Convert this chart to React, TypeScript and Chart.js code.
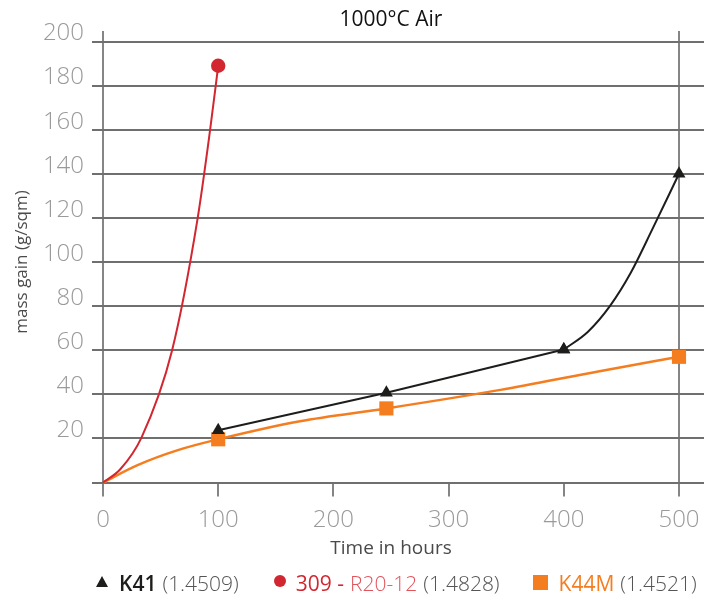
import React, { useEffect, useRef } from "react";
import { Chart, registerables } from "chart.js";

Chart.register(...registerables);

// ---- text ----
const chartTitle = "1000°C Air";
const xAxisTitle = "Time in hours";
const yAxisTitle = "mass gain (g/sqm)";

// ---- ticks ----
const xTickValues = [0, 100, 200, 300, 400, 500];
const yTickValues = [0, 20, 40, 60, 80, 100, 120, 140, 160, 180, 200];
const xEdgeValues = [0, 500];

// ---- series: K41 (straight part, then curved tail) ----
const k41Hours = [100, 246, 400];
const k41Gain = [23.7, 40.7, 60.3];
const k41TailHours = [400, 421, 440, 458, 477, 500];
const k41TailGain = [60.3, 68.4, 80, 95, 115, 140];
const k41Measured = [100, 246, 400, 500];

// ---- series: 309 - R20-12 ----
const r309Hours = [0, 15, 33.5, 60, 82, 93, 100];
const r309Gain = [0, 6, 20.5, 60, 119.3, 160, 189];
const r309Measured = [100];

// ---- series: K44M ----
const k44mHours = [0, 30, 65, 100, 171, 246, 345, 431, 500];
const k44mGain = [0, 7.9, 14.7, 19.6, 27.8, 33.6, 42, 50.5, 57];
const k44mMeasured = [100, 246, 500];

// ---- legend text ----
const legendNames = ["K41", "309 -", "K44M"];
const legendSubNames = ["", "R20-12", ""];
const legendCodes = ["(1.4509)", "(1.4828)", "(1.4521)"];

const FONT = "'Open Sans', 'DejaVu Sans', sans-serif";
const BLACK = "#1d1d1b";
const RED = "#d22630";
const RED_LIGHT = "#e2545c";
const ORANGE = "#f47d20";
const GRID = "#6f6f6f";
const VGRID = "#858585";

function toPoints(xs: number[], ys: number[]) {
  return xs.map((x, i) => ({ x, y: ys[i] }));
}

function markerRadius(xs: number[], measured: number[], r: number) {
  return (c: any) => (measured.includes(xs[c.dataIndex]) ? r : 0);
}

function Marker({ kind, color }: { kind: string; color: string }) {
  if (kind === "triangle") {
    return (
      <span
        style={{
          display: "inline-block",
          width: 0,
          height: 0,
          borderLeft: "6px solid transparent",
          borderRight: "6px solid transparent",
          borderBottom: `11px solid ${color}`,
          marginRight: 11,
          position: "relative",
          top: -2,
        }}
      />
    );
  }
  if (kind === "circle") {
    return (
      <span
        style={{
          display: "inline-block",
          width: 12,
          height: 12,
          borderRadius: "50%",
          background: color,
          marginRight: 10,
          position: "relative",
          top: -2,
        }}
      />
    );
  }
  return (
    <span
      style={{
        display: "inline-block",
        width: 15,
        height: 15,
        background: color,
        marginRight: 11,
        position: "relative",
        top: -1,
      }}
    />
  );
}

export default function App() {
  const ref = useRef<HTMLCanvasElement>(null);

  useEffect(() => {
    const canvas = ref.current;
    if (!canvas) return;
    const chart = new Chart(canvas, {
      type: "line",
      data: {
        datasets: [
          {
            label: "K41",
            data: toPoints(k41Hours, k41Gain),
            borderColor: BLACK,
            backgroundColor: BLACK,
            borderWidth: 2,
            pointStyle: "triangle",
            pointRadius: markerRadius(k41Hours, k41Measured, 7.5),
            pointBorderWidth: 0,
            tension: 0,
            clip: false,
          } as any,
          {
            label: "K41",
            data: toPoints(k41TailHours, k41TailGain),
            borderColor: BLACK,
            backgroundColor: BLACK,
            borderWidth: 2,
            pointStyle: "triangle",
            pointRadius: markerRadius(k41TailHours, k41Measured, 7.5),
            pointBorderWidth: 0,
            cubicInterpolationMode: "monotone",
            clip: false,
          } as any,
          {
            label: "309 - R20-12",
            data: toPoints(r309Hours, r309Gain),
            borderColor: RED,
            backgroundColor: RED,
            borderWidth: 2,
            pointStyle: "circle",
            pointRadius: markerRadius(r309Hours, r309Measured, 7.2),
            pointBorderWidth: 0,
            cubicInterpolationMode: "monotone",
            clip: false,
          } as any,
          {
            label: "K44M",
            data: toPoints(k44mHours, k44mGain),
            borderColor: ORANGE,
            backgroundColor: ORANGE,
            borderWidth: 2.5,
            pointStyle: "rect",
            pointRadius: markerRadius(k44mHours, k44mMeasured, 10),
            pointBorderWidth: 0,
            cubicInterpolationMode: "monotone",
            clip: false,
          } as any,
        ],
      },
      options: {
        responsive: false,
        animation: false,
        events: [],
        layout: { padding: { top: 0, left: 0, right: 11, bottom: 36 } },
        plugins: {
          legend: { display: false },
          tooltip: { enabled: false },
          title: {
            display: true,
            text: chartTitle,
            fullSize: false,
            color: "#111",
            font: { family: FONT, size: 21, weight: "normal", lineHeight: 1 },
            padding: { top: 9.5, bottom: 0.5 },
          },
        },
        scales: {
          x: {
            type: "linear",
            position: "bottom",
            min: 0,
            max: 500,
            afterBuildTicks: (s: any) => {
              s.ticks = xTickValues.map((v) => ({ value: v }));
            },
            afterFit: (s: any) => {
              s.height = 80.5;
            },
            border: { display: false },
            grid: {
              color: (c: any) =>
                c.tick && xEdgeValues.includes(c.tick.value) ? VGRID : "rgba(0,0,0,0)",
              tickColor: VGRID,
              lineWidth: 2,
              tickWidth: 2,
              tickLength: 14,
            },
            ticks: {
              color: "#9a9a9a",
              font: { family: FONT, size: 24, weight: "300" },
              padding: 9,
              maxRotation: 0,
              autoSkip: false,
            },
            title: {
              display: true,
              text: xAxisTitle,
              color: "#4a4a4a",
              font: { family: FONT, size: 19 },
              padding: { top: 0, bottom: 2.6 },
            },
          },
          xTop: {
            type: "linear",
            position: "top",
            min: 0,
            max: 500,
            afterBuildTicks: (s: any) => {
              s.ticks = xEdgeValues.map((v) => ({ value: v }));
            },
            afterFit: (s: any) => {
              s.height = 10.5;
            },
            border: { display: false },
            grid: {
              drawOnChartArea: false,
              color: VGRID,
              lineWidth: 2,
              tickLength: 10.5,
            },
            ticks: { display: false },
          },
          y: {
            type: "linear",
            position: "left",
            min: 0,
            max: 200,
            afterBuildTicks: (s: any) => {
              s.ticks = yTickValues.map((v) => ({ value: v }));
            },
            afterFit: (s: any) => {
              s.width = 103;
            },
            border: { display: false },
            grid: {
              color: GRID,
              lineWidth: 2,
              tickLength: 11,
            },
            ticks: {
              color: "#9a9a9a",
              font: { family: FONT, size: 24, weight: "300" },
              padding: 8,
              labelOffset: -8,
              callback: (v: any) => (v === 0 ? "" : String(v)),
            },
            title: {
              display: true,
              text: yAxisTitle,
              color: "#4a4a4a",
              font: { family: FONT, size: 17 },
              padding: { top: 12, bottom: 0 },
            },
          },
          yRight: {
            type: "linear",
            position: "right",
            min: 0,
            max: 200,
            afterBuildTicks: (s: any) => {
              s.ticks = yTickValues.map((v) => ({ value: v }));
            },
            afterFit: (s: any) => {
              s.width = 25;
            },
            border: { display: false },
            grid: {
              drawOnChartArea: false,
              color: GRID,
              lineWidth: 2,
              tickLength: 25,
            },
            ticks: { display: false },
          },
        },
      } as any,
    });
    return () => chart.destroy();
  }, []);

  const markerKinds = ["triangle", "circle", "rect"];
  const nameColors = [BLACK, RED, ORANGE];
  const nameWeights = [600, 400, 400];
  const gaps = [35, 33, 0];

  return (
    <div style={{ position: "absolute", left: 0, top: 0, width: 715, height: 599 }}>
      <canvas ref={ref} width={715} height={599} style={{ display: "block" }} />
      <div
        style={{
          position: "absolute",
          left: 96,
          top: 570,
          display: "flex",
          alignItems: "center",
          fontFamily: FONT,
          fontSize: 21,
          lineHeight: "26px",
          whiteSpace: "nowrap",
        }}
      >
        {legendNames.map((name, i) => (
          <div
            key={name}
            style={{ display: "flex", alignItems: "center", marginRight: gaps[i] }}
          >
            <Marker kind={markerKinds[i]} color={nameColors[i]} />
            <span style={{ color: nameColors[i], fontWeight: nameWeights[i] }}>{name}</span>
            {legendSubNames[i] ? (
              <span style={{ color: RED_LIGHT, fontWeight: 300, marginLeft: 6 }}>
                {legendSubNames[i]}
              </span>
            ) : null}
            <span style={{ color: "#555", fontWeight: 300, marginLeft: 6 }}>{legendCodes[i]}</span>
          </div>
        ))}
      </div>
    </div>
  );
}
